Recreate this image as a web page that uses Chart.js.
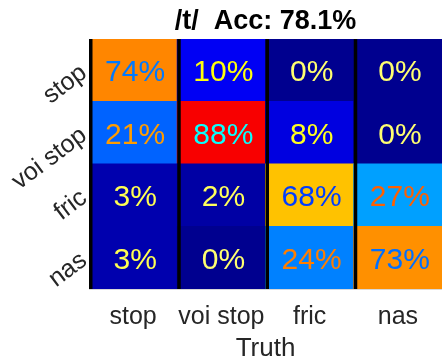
<!DOCTYPE html>
<html>
<head>
<meta charset="utf-8">
<script src="https://cdn.jsdelivr.net/npm/chart.js@4/dist/chart.umd.min.js"></script>
<style>
  html, body { margin: 0; padding: 0; background: #fff; overflow: hidden; }
  #wrap { width: 442px; height: 361px; position: relative; }
</style>
</head>
<body>
<div id="wrap"><canvas id="confChart"></canvas></div>
<script>
// Confusion matrix: columns are the true class, rows the predicted class (percent of column)
const truthLabels = ['stop', 'voi stop', 'fric', 'nas'];
const predLabels = ['stop', 'voi stop', 'fric', 'nas'];
const rowStop    = [74, 10, 0, 0];
const rowVoiStop = [21, 88, 8, 0];
const rowFric    = [3, 2, 68, 27];
const rowNas     = [3, 0, 24, 73];
const accuracy = 78.1;
const yTickPos = [0.5, 1.5, 2.5, 3.5];

const FONT = "'Liberation Sans', Arial, sans-serif";

// MATLAB-style jet colormap (64 steps, interpolated)
function jet(v) {
  const p = 1 + v * 63;
  const ch = (lo, hi) => Math.max(0, Math.min(1, (p - lo) / 16, (hi - p) / 16));
  return [ch(24, 72), ch(8, 56), ch(-8, 40)].map(c => Math.round(c * 255));
}
const rgb = c => `rgb(${c[0]},${c[1]},${c[2]})`;
const invert = c => c.map(x => 255 - x);

// stacked bottom-up, so the last predicted class goes first
const rows = [rowNas, rowFric, rowVoiStop, rowStop];
const rowNames = predLabels.slice().reverse();

const datasets = rows.map((vals, i) => ({
  label: rowNames[i],
  data: vals.map(() => 1),
  pct: vals,
  backgroundColor: vals.map(v => rgb(jet(v / 100))),
  borderWidth: 0,
  inflateAmount: 0.5,
  barPercentage: 1,
  categoryPercentage: 1
}));

// black separators on the left of each column, then the percent text
// inside each cell in the inverse of the cell colour
const cellText = {
  id: 'cellText',
  afterDatasetsDraw(chart) {
    const ctx = chart.ctx;
    const { top, bottom } = chart.chartArea;
    const xs = chart.scales.x;
    const colW = xs.width / truthLabels.length;
    ctx.save();
    ctx.fillStyle = '#000';
    truthLabels.forEach((_, i) => {
      const left = xs.getPixelForValue(i) - colW / 2;
      ctx.fillRect(left, top, 3.5, bottom - top);
    });
    ctx.font = `30px ${FONT}`;
    ctx.textAlign = 'center';
    ctx.textBaseline = 'middle';
    chart.data.datasets.forEach((ds, di) => {
      chart.getDatasetMeta(di).data.forEach((bar, j) => {
        const v = ds.pct[j];
        ctx.fillStyle = rgb(invert(jet(v / 100)));
        ctx.fillText(v + '%', bar.x + 2, (bar.y + bar.base) / 2 + 2.5);
      });
    });
    ctx.restore();
  }
};

new Chart(document.getElementById('confChart'), {
  type: 'bar',
  data: { labels: truthLabels, datasets },
  plugins: [cellText],
  options: {
    responsive: true,
    maintainAspectRatio: false,
    animation: false,
    layout: { padding: 0 },
    plugins: {
      legend: { display: false },
      tooltip: { enabled: false },
      title: {
        display: true,
        text: '/t/  Acc: ' + accuracy + '%',
        fullSize: false,
        color: '#000',
        font: { family: FONT, size: 27, weight: 'bold' },
        padding: { top: 5, bottom: 1.6 }
      }
    },
    scales: {
      x: {
        stacked: true,
        grid: { display: false },
        border: { color: 'rgba(0,0,0,0.15)' },
        ticks: { color: '#262626', font: { family: FONT, size: 25 }, padding: 5, maxRotation: 0, autoSkip: false },
        title: {
          display: true,
          text: 'Truth',
          color: '#262626',
          font: { family: FONT, size: 26 },
          padding: { top: 0, bottom: -3 }
        },
        afterFit: s => { s.height = 72; }
      },
      y: {
        stacked: true,
        min: 0,
        max: 4,
        grid: { display: false },
        border: { display: false },
        afterBuildTicks: s => { s.ticks = yTickPos.map(v => ({ value: v })); },
        ticks: {
          color: '#262626',
          font: { family: FONT, size: 25 },
          padding: -3,
          minRotation: 37,
          maxRotation: 37,
          callback: v => predLabels[3 - Math.floor(v)]
        },
        afterFit: s => { s.width = 89; }
      }
    }
  }
});
</script>
</body>
</html>
